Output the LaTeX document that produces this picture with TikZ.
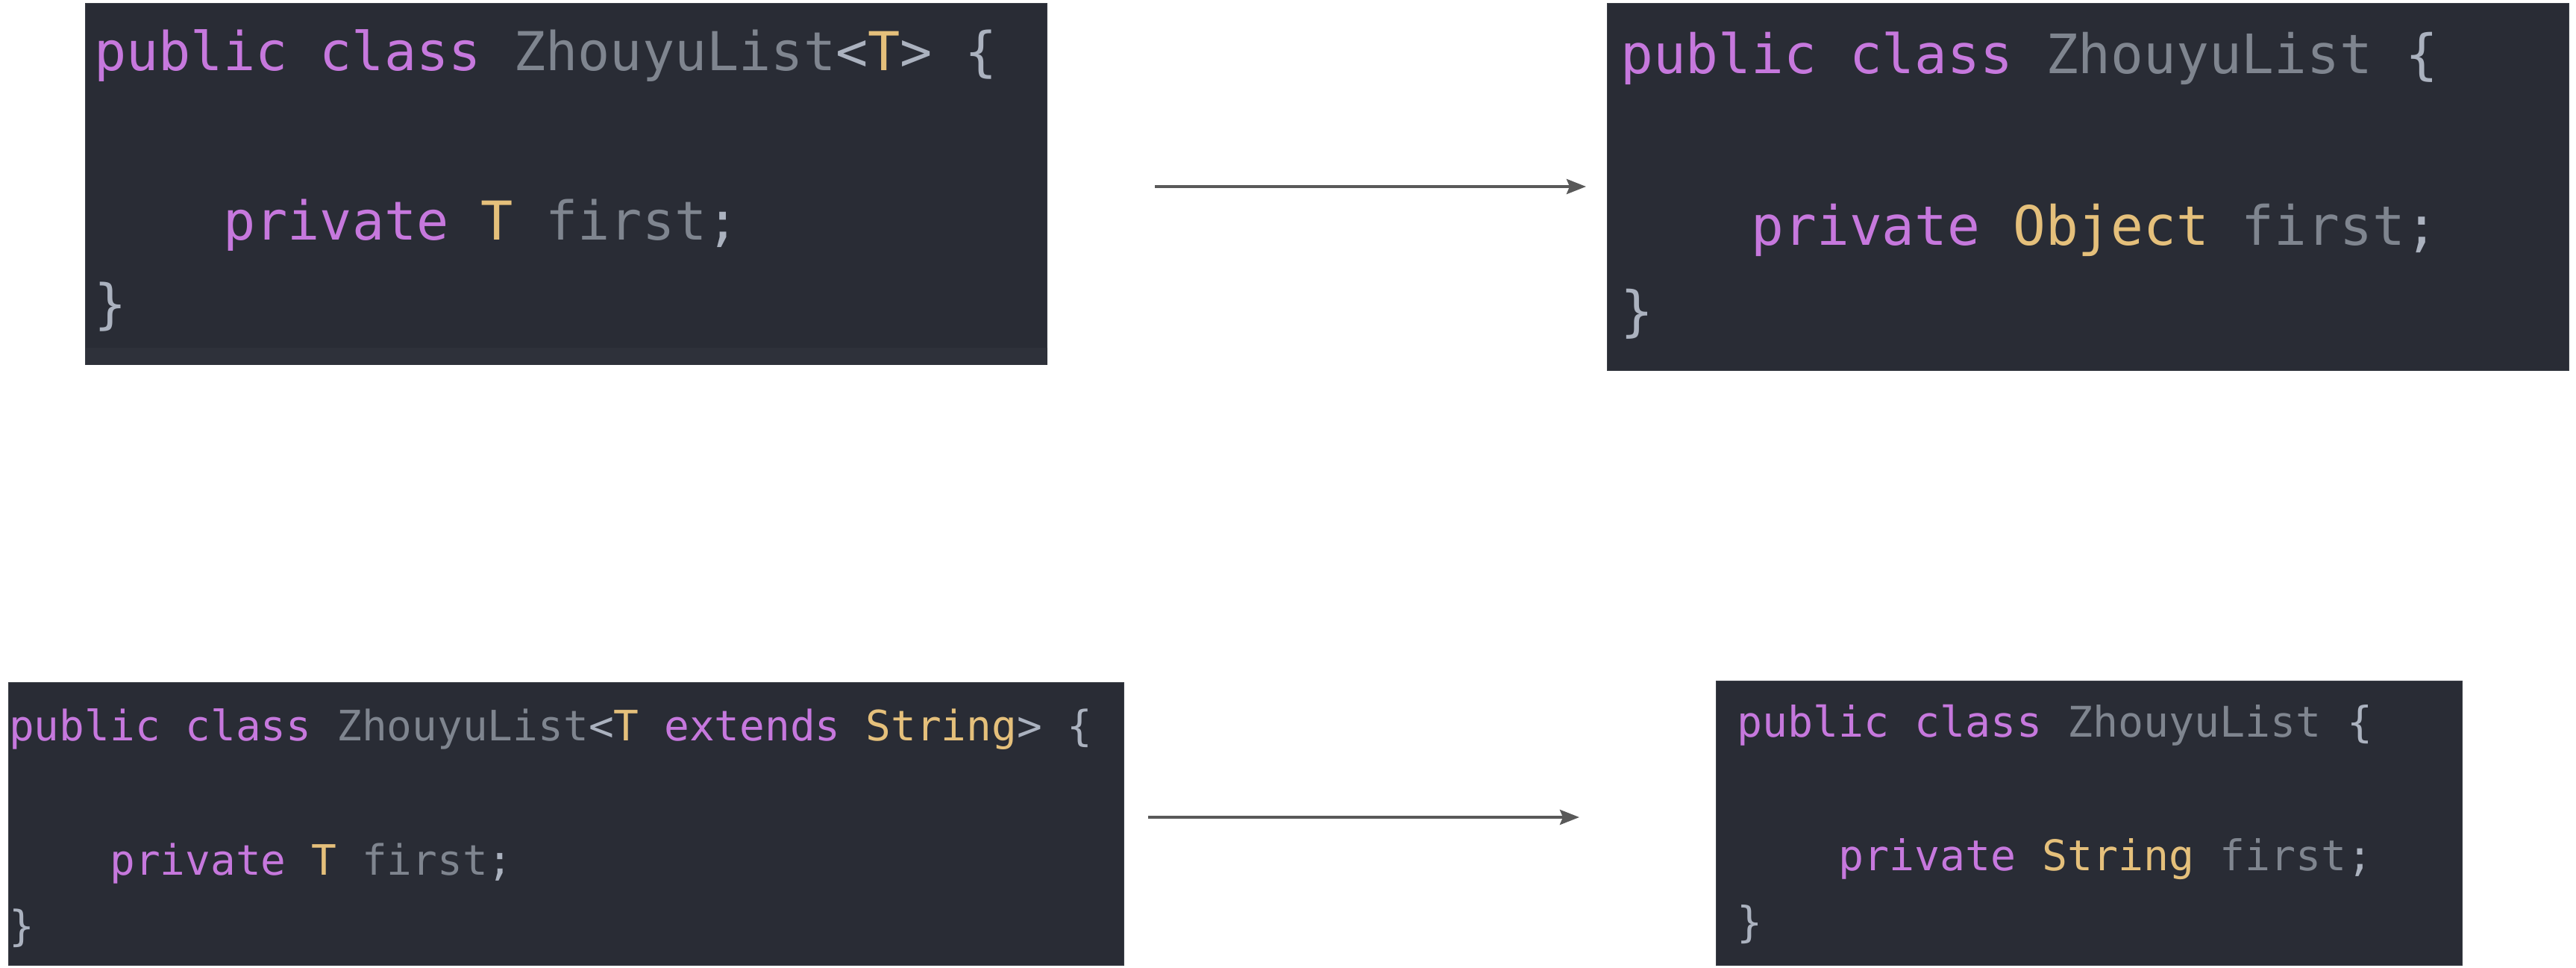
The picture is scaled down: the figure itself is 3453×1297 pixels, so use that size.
\documentclass[tikz,border=0pt]{standalone}
\usepackage{fontspec}
\usetikzlibrary{arrows.meta}
\newfontfamily\codefont{DejaVu Sans Mono}
\definecolor{bgc}{HTML}{292C35}
\definecolor{stripc}{HTML}{2E313A}
\definecolor{kwc}{HTML}{C678DD}
\definecolor{tyc}{HTML}{E5C07B}
\definecolor{idc}{HTML}{7F858F}
\definecolor{pnc}{HTML}{ABB2BF}
\definecolor{arc}{HTML}{595959}
\definecolor{edgec}{HTML}{3A3E46}
\newcommand\CK[1]{\textcolor{kwc}{#1}}
\newcommand\CT[1]{\textcolor{tyc}{#1}}
\newcommand\CI[1]{\textcolor{idc}{#1}}
\newcommand\CP[1]{\textcolor{pnc}{#1}}
\newcommand\IND{\phantom{xxxx}}
\tikzset{
  codebox/.style={fill=bgc, draw=edgec, line width=1pt, inner sep=0pt, anchor=north west},
  bigcode/.style={anchor=base west, inner sep=0pt, font=\codefont\fontsize{71.8pt}{80pt}\selectfont},
  bigcodeB/.style={anchor=base west, inner sep=0pt, font=\codefont\fontsize{72.8pt}{80pt}\selectfont},
  smallcode/.style={anchor=base west, inner sep=0pt, font=\codefont\fontsize{56.1pt}{64pt}\selectfont},
  smallcodeB/.style={anchor=base west, inner sep=0pt, font=\codefont\fontsize{56.6pt}{64pt}\selectfont},
  conn/.style={draw=arc, line width=4pt, -{Stealth[length=26pt,width=20pt,inset=4pt]}}
}
\begin{document}
\begin{tikzpicture}[x=1pt,y=-1pt]
\useasboundingbox[fill=white] (0,0) rectangle (3453,1297);
% boxes
\node[codebox, minimum width=1289pt, minimum height=484pt] (b1) at (114,4) {};
\fill[stripc] ([shift={(0.5pt,0pt)}]b1.south west) ++(0,-23) rectangle ([shift={(-0.5pt,0.5pt)}]b1.south east);
\node[codebox, minimum width=1289pt, minimum height=492pt] (b2) at (2154,4) {};
\node[codebox, minimum width=1495pt, minimum height=379pt] (b3) at (11,914) {};
\node[codebox, minimum width=1000pt, minimum height=381pt] (b4) at (2300,912) {};
% box 1
\node[bigcode] (t1a) at (126,95) {\CK{public class} \CI{ZhouyuList}\CP{<}\CT{T}\CP{>} \CP{\{}};
\node[bigcode] (t1b) at (126,322) {\IND\CK{private} \CT{T} \CI{first}\CP{;}};
\node[bigcode] (t1c) at (126,432) {\CP{\}}};
% box 2
\node[bigcodeB] (t2a) at (2172,99) {\CK{public class} \CI{ZhouyuList} \CP{\{}};
\node[bigcodeB] (t2b) at (2172,328) {\IND\CK{private} \CT{Object} \CI{first}\CP{;}};
\node[bigcodeB] (t2c) at (2172,442) {\CP{\}}};
% box 3
\node[smallcode] (t3a) at (12,992) {\CK{public class} \CI{ZhouyuList}\CP{<}\CT{T} \CK{extends} \CT{String}\CP{>} \CP{\{}};
\node[smallcode] (t3b) at (12,1172) {\IND\CK{private} \CT{T} \CI{first}\CP{;}};
\node[smallcode] (t3c) at (12,1260) {\CP{\}}};
% box 4
\node[smallcodeB] (t4a) at (2328,987) {\CK{public class} \CI{ZhouyuList} \CP{\{}};
\node[smallcodeB] (t4b) at (2328,1166) {\IND\CK{private} \CT{String} \CI{first}\CP{;}};
\node[smallcodeB] (t4c) at (2328,1255) {\CP{\}}};
% arrows
\coordinate (a1s) at (1548,250);
\coordinate (a1e) at (2126,250);
\coordinate (a2s) at (1539,1095);
\coordinate (a2e) at (2117,1095);
\draw[conn] (a1s) -- (a1e);
\draw[conn] (a2s) -- (a2e);
\end{tikzpicture}
\end{document}
